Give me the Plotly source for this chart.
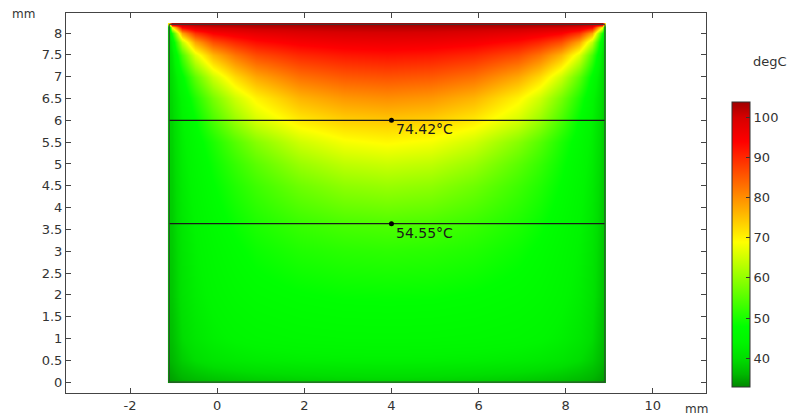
import plotly.graph_objects as go

# ---- data (temperature field, degC) ----
x_mm = [-1.1, -1.04, -0.8, -0.5, -0.1, 0.4, 0.9, 1.9, 2.9, 3.9, 4.9, 5.9, 6.9, 7.4, 7.9, 8.3, 8.6, 8.84, 8.9]
y_mm = [0, 0.06, 0.5, 1.0, 2.0, 3.0, 3.63, 4.5, 5.0, 5.5, 6.0, 6.5, 7.0, 7.5, 7.8, 8.0, 8.14, 8.2]
temp_degC = [
    [34.2, 34.5, 35.3, 36.1, 36.9, 37.5, 37.9, 38.3, 38.6, 38.7, 38.6, 38.3, 37.9, 37.5, 36.9, 36.1, 35.3, 34.5, 34.2],
    [34.5, 34.8, 35.8, 36.6, 37.4, 38.0, 38.5, 39.0, 39.3, 39.4, 39.3, 39.0, 38.5, 38.0, 37.4, 36.6, 35.8, 34.8, 34.5],
    [35.8, 36.2, 38.4, 40.0, 41.3, 42.1, 42.6, 43.1, 43.3, 43.4, 43.3, 43.1, 42.6, 42.1, 41.3, 40.0, 38.4, 36.2, 35.8],
    [36.6, 37.0, 39.8, 41.7, 43.2, 44.3, 44.9, 45.5, 45.8, 45.9, 45.8, 45.5, 44.9, 44.3, 43.2, 41.7, 39.8, 37.0, 36.6],
    [37.4, 37.8, 40.8, 42.9, 44.6, 46.0, 46.9, 47.8, 48.3, 48.4, 48.3, 47.8, 46.9, 46.0, 44.6, 42.9, 40.8, 37.8, 37.4],
    [37.8, 38.2, 41.3, 43.6, 45.6, 47.4, 48.8, 50.5, 51.3, 51.6, 51.3, 50.5, 48.8, 47.4, 45.6, 43.6, 41.3, 38.2, 37.8],
    [38.0, 38.4, 41.7, 44.1, 46.4, 48.6, 50.3, 52.6, 54.0, 54.5, 54.0, 52.6, 50.3, 48.6, 46.4, 44.1, 41.7, 38.4, 38.0],
    [38.2, 38.6, 42.2, 45.0, 47.8, 50.6, 53.0, 57.0, 59.6, 60.5, 59.6, 57.0, 53.0, 50.6, 47.8, 45.0, 42.2, 38.6, 38.2],
    [38.4, 38.8, 42.6, 45.6, 48.8, 52.3, 55.4, 60.6, 63.6, 64.6, 63.6, 60.6, 55.4, 52.3, 48.8, 45.6, 42.6, 38.8, 38.4],
    [38.6, 39.0, 43.0, 46.4, 50.2, 54.9, 59.0, 65.0, 68.3, 69.4, 68.3, 65.0, 59.0, 54.9, 50.2, 46.4, 43.0, 39.0, 38.6],
    [38.8, 39.2, 43.6, 47.8, 54.0, 60.5, 65.5, 71.0, 73.6, 74.4, 73.6, 71.0, 65.5, 60.5, 54.0, 47.8, 43.6, 39.2, 38.8],
    [39.0, 39.6, 44.5, 50.5, 57.8, 64.9, 70.0, 76.2, 79.0, 79.9, 79.0, 76.2, 70.0, 64.9, 57.8, 50.5, 44.5, 39.6, 39.0],
    [39.2, 40.2, 47.1, 55.7, 64.8, 72.4, 77.4, 82.8, 85.1, 85.8, 85.1, 82.8, 77.4, 72.4, 64.8, 55.7, 47.1, 40.2, 39.2],
    [39.4, 41.6, 54.0, 66.4, 76.1, 82.4, 86.5, 90.0, 91.6, 92.2, 91.6, 90.0, 86.5, 82.4, 76.1, 66.4, 54.0, 41.6, 39.4],
    [39.6, 44.0, 63.8, 77.7, 86.2, 90.1, 92.7, 95.0, 96.1, 96.4, 96.1, 95.0, 92.7, 90.1, 86.2, 77.7, 63.8, 44.0, 39.6],
    [39.8, 50.0, 78.1, 89.0, 94.1, 96.1, 97.4, 98.7, 99.4, 99.6, 99.4, 98.7, 97.4, 96.1, 94.1, 89.0, 78.1, 50.0, 39.8],
    [40.2, 70.3, 94.8, 98.9, 100.5, 101.0, 101.7, 101.9, 102.1, 102.2, 102.1, 101.9, 101.7, 101.0, 100.5, 98.9, 94.8, 70.3, 40.2],
    [70.0, 102.5, 103.0, 103.2, 103.4, 103.5, 103.6, 103.8, 103.9, 103.9, 103.9, 103.8, 103.6, 103.5, 103.4, 103.2, 103.0, 102.5, 70.0],
]
temp_min, temp_max = 32.9, 103.9

domain_x = [-1.1, 8.9]
domain_y = [0.0, 8.2]
cut_lines_y = [6.0, 3.63]
probe_x = 4.0
probe_values = [74.42, 54.55]
x_ticks = [-2, 0, 2, 4, 6, 8, 10]
x_ticklabels = ["-2", "0", "2", "4", "6", "8", "10"]
cbar_ticks = [40, 50, 60, 70, 80, 90, 100]

# ---- colour table (green - yellow - red) ----
def _n(v):
    return (v - temp_min) / (temp_max - temp_min)

colorscale = [
    [0.0, "rgb(0,135,0)"],
    [_n(36), "rgb(0,182,0)"],
    [_n(40), "rgb(0,222,0)"],
    [_n(44), "rgb(0,245,0)"],
    [_n(48), "rgb(0,255,0)"],
    [_n(69), "rgb(255,255,0)"],
    [_n(94), "rgb(255,0,0)"],
    [_n(100), "rgb(215,0,0)"],
    [1.0, "rgb(160,0,0)"],
]

# page has an 8px body margin: lay the figure out in page pixels minus 8
OFF = 8
W, H = 803 - OFF, 419 - OFF
PLOT_L, PLOT_R, PLOT_T, PLOT_B = 66, 706, 13, 393   # page pixels
ML, MT = PLOT_L - OFF, PLOT_T - OFF
MR, MB = W - (PLOT_R - OFF), H - (PLOT_B - OFF)
PW, PH = PLOT_R - PLOT_L, PLOT_B - PLOT_T

def px_to_paper_x(px):
    return (px - PLOT_L) / PW

def px_to_paper_y(py):
    return (PLOT_B - py) / PH

FONT = "DejaVu Sans"
TXT = "#333333"

fig = go.Figure()

fig.add_trace(go.Heatmap(
    x=x_mm, y=y_mm, z=temp_degC,
    zmin=temp_min, zmax=temp_max,
    colorscale=colorscale, zsmooth="best",
    hoverinfo="skip",
    colorbar=dict(
        x=px_to_paper_x(732), xanchor="left", xpad=0,
        y=px_to_paper_y(244.2), yanchor="middle", ypad=0,
        len=285, lenmode="pixels",
        thickness=18, thicknessmode="pixels",
        outlinecolor="#333333", outlinewidth=1,
        tickvals=cbar_ticks, ticks="inside", ticklen=4, tickcolor="#333333",
        tickfont=dict(family=FONT, size=13, color=TXT),
    ),
))

# cut lines
for yc in cut_lines_y:
    fig.add_trace(go.Scatter(
        x=domain_x, y=[yc, yc], mode="lines",
        line=dict(color="#1a1a1a", width=1.3),
        showlegend=False, hoverinfo="skip",
    ))

# probe points
fig.add_trace(go.Scatter(
    x=[probe_x] * len(cut_lines_y), y=cut_lines_y, mode="markers",
    marker=dict(color="black", size=5),
    showlegend=False, hoverinfo="skip",
))

# domain outline
fig.add_shape(type="rect", x0=domain_x[0], x1=domain_x[1], y0=domain_y[0], y1=domain_y[1],
              line=dict(color="#3a3a3a", width=1), layer="above")

# small toolbar icon in the top-right corner
fig.add_shape(type="rect", xref="paper", yref="paper",
              x0=px_to_paper_x(796), x1=px_to_paper_x(804),
              y0=px_to_paper_y(11), y1=px_to_paper_y(2),
              line=dict(color="#b8c4d0", width=1), fillcolor="#2f6fc0", layer="above")

annotations = []
for yc, val in zip(cut_lines_y, probe_values):
    annotations.append(dict(
        x=probe_x, y=yc, xref="x", yref="y", text=f"{val:.2f}°C",
        showarrow=False, xanchor="left", yanchor="top", xshift=3, yshift=1,
        font=dict(family=FONT, size=14, color="#1a1a1a"),
    ))
annotations.append(dict(x=px_to_paper_x(23), y=px_to_paper_y(14), xref="paper", yref="paper",
                        text="mm", showarrow=False, xanchor="center", yanchor="middle",
                        font=dict(family=FONT, size=12, color=TXT)))
annotations.append(dict(x=px_to_paper_x(696), y=px_to_paper_y(409), xref="paper", yref="paper",
                        text="mm", showarrow=False, xanchor="center", yanchor="middle",
                        font=dict(family=FONT, size=12, color=TXT)))
annotations.append(dict(x=px_to_paper_x(770), y=px_to_paper_y(62), xref="paper", yref="paper",
                        text="degC", showarrow=False, xanchor="center", yanchor="middle",
                        font=dict(family=FONT, size=13, color=TXT)))

axis_common = dict(
    showgrid=False, zeroline=False, showline=True, linecolor="#444444", linewidth=1,
    mirror="ticks", ticks="inside", ticklen=5, tickcolor="#444444",
    tickfont=dict(family=FONT, size=13, color=TXT),
)

fig.update_layout(
    width=W, height=H,
    margin=dict(l=ML, r=MR, t=MT, b=MB, autoexpand=False),
    paper_bgcolor="white", plot_bgcolor="white",
    showlegend=False,
    xaxis=dict(range=[-3.47, 11.22], tickvals=x_ticks, ticktext=x_ticklabels, **axis_common),
    yaxis=dict(range=[-0.25, 8.46], tick0=0, dtick=0.5, **axis_common),
    annotations=annotations,
)

fig.write_html("out.html")
